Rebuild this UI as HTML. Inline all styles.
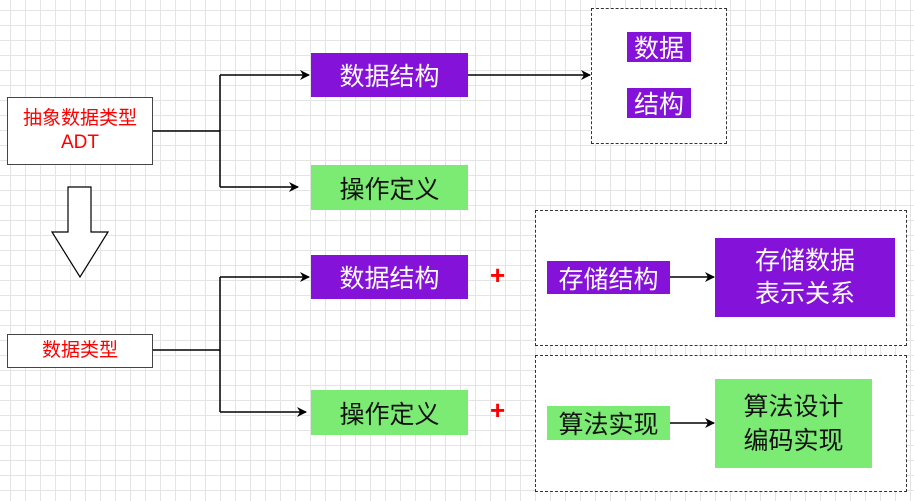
<!DOCTYPE html>
<html><head><meta charset="utf-8"><style>
body{margin:0;width:914px;height:501px;overflow:hidden;background:#fff;
background-image:linear-gradient(#e4e4e4 1px,transparent 1px),linear-gradient(90deg,#e4e4e4 1px,transparent 1px);
background-size:15px 15px;background-position:10px 10px;
font-family:"Liberation Sans","Noto Sans CJK SC",sans-serif;}
.b{position:absolute;box-sizing:border-box;display:flex;align-items:center;justify-content:center;text-align:center;}
.p{background:#8512d8;color:#fff;font-size:25px;}
.g{background:#7ceb73;color:#111;font-size:25px;}
.d{position:absolute;border:1.5px dashed #333;background:#fff;box-sizing:border-box;}
.w{background:#fff;border:1.5px solid #444;color:#f00;font-size:19px;line-height:24px;}
.plus{position:absolute;color:#f00;font-size:26px;font-weight:bold;}
</style></head><body>
<div class="d" style="left:591px;top:8px;width:136px;height:136px"></div>
<div class="d" style="left:535px;top:210px;width:372px;height:136px"></div>
<div class="d" style="left:535px;top:355px;width:372px;height:137px"></div>
<svg width="914" height="501" style="position:absolute;left:0;top:0">
<defs><marker id="a" markerWidth="10" markerHeight="10" refX="9" refY="5" orient="auto" markerUnits="userSpaceOnUse"><path d="M0,0 L10,5 L0,10 L3,5z" fill="#000"/></marker></defs>
<g stroke="#000" stroke-width="1.5" fill="none">
<path d="M153,131 H220 M220,75 V187"/>
<path d="M220,75 H309" marker-end="url(#a)"/>
<path d="M220,187 H298" marker-end="url(#a)"/>
<path d="M468,75 H590" marker-end="url(#a)"/>
<path d="M153,350 H220 M220,277 V412"/>
<path d="M220,277 H309" marker-end="url(#a)"/>
<path d="M220,412 H306" marker-end="url(#a)"/>
<path d="M670,277 H714" marker-end="url(#a)"/>
<path d="M670,423 H714" marker-end="url(#a)"/>
</g>
<path d="M68,187 H91 V232 H108 L80,277 L52,232 H68 Z" fill="#fff" stroke="#000" stroke-width="1.2"/>
</svg>
<div class="b w" style="left:7px;top:97px;width:146px;height:68px">抽象数据类型<br>ADT</div>
<div class="b w" style="left:7px;top:334px;width:146px;height:34px">数据类型</div>
<div class="b p" style="left:311px;top:53px;width:157px;height:44px">数据结构</div>
<div class="b g" style="left:311px;top:165px;width:157px;height:45px">操作定义</div>
<div class="b p" style="left:311px;top:255px;width:157px;height:44px">数据结构</div>
<div class="b g" style="left:311px;top:390px;width:157px;height:45px">操作定义</div>
<div class="b p" style="left:627px;top:32px;width:64px;height:30px">数据</div>
<div class="b p" style="left:627px;top:88px;width:64px;height:30px">结构</div>
<div class="b p" style="left:547px;top:261px;width:123px;height:33px">存储结构</div>
<div class="b p" style="left:715px;top:238px;width:180px;height:79px;line-height:33px">存储数据<br>表示关系</div>
<div class="b g" style="left:547px;top:406px;width:123px;height:34px">算法实现</div>
<div class="b g" style="left:715px;top:379px;width:157px;height:89px;line-height:34px">算法设计<br>编码实现</div>
<div class="plus" style="left:490px;top:260px">+</div>
<div class="plus" style="left:490px;top:395px">+</div>
</body></html>
